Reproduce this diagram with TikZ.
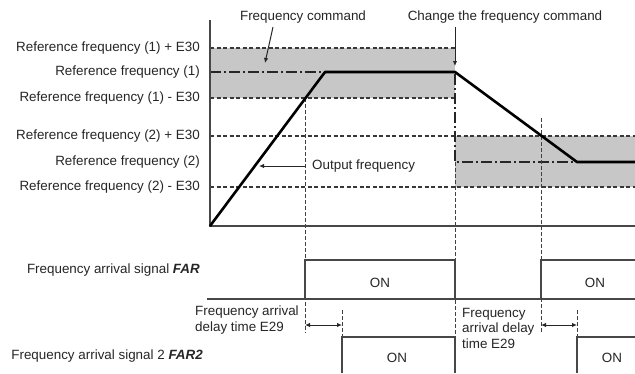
\documentclass[tikz,border=0pt]{standalone}
\usepackage{fontspec}
\setmainfont{Liberation Sans}
\usetikzlibrary{arrows.meta}
\begin{document}
\begin{tikzpicture}[x=1pt,y=-1pt,
  lbl/.style={font=\fontsize{13.4}{15.5}\selectfont, text=black!85, inner sep=0pt},
  gridline/.style={draw=black!78, line width=1.1pt, dash pattern=on 4pt off 2.5pt},
  cmdline/.style={draw=black!85, line width=1.4pt, dash pattern=on 11pt off 3pt on 2pt off 3pt},
  outline/.style={draw=black, line width=2.6pt, line join=round},
  sigline/.style={draw=black!72, line width=1.2pt},
  vdash/.style={draw=black!75, line width=1pt, dash pattern=on 4pt off 2pt},
  tip/.style={draw=black!85, line width=1pt, -{Latex[length=5pt,width=4.5pt]}},
  dtip/.style={draw=black!85, line width=1pt, {Latex[length=5pt,width=4.5pt]}-{Latex[length=5pt,width=4.5pt]}},
  band/.style={fill=black!22}]
\useasboundingbox (0,0) rectangle (635,373);
\fill[white] (0,0) rectangle (635,373);
% bands
\fill[band] (210,48) rectangle (455,98);
\fill[band] (455,136) rectangle (635,187);
% tolerance lines
\draw[gridline] (210,48) -- (455,48);
\draw[gridline] (210,98) -- (455,98);
\draw[gridline] (210,136) -- (635,136);
\draw[gridline] (210,187) -- (635,187);
% command
\draw[cmdline] (210,72) -- (455,72) -- (455,162) -- (635,162);
% vertical guides
\draw[vdash] (305,98) -- (305,333);
\draw[vdash] (455,162) -- (455,373);
\draw[vdash] (541,118) -- (541,333);
\draw[vdash] (342,310) -- (342,337);
\draw[vdash] (577,310) -- (577,337);
% axes
\draw[sigline] (210,20) -- (210,226) -- (635,226);
% output frequency
\draw[outline] (210,226) -- (325,72) -- (455,72) -- (577,162) -- (635,162);
% FAR
\draw[sigline] (207,299) -- (635,299);
\draw[sigline] (305,299) -- (305,260) -- (455,260) -- (455,299);
\draw[sigline] (541,299) -- (541,260) -- (635,260);
% FAR2
\draw[sigline] (342,373) -- (342,337) -- (455,337) -- (455,373);
\draw[sigline] (577,373) -- (577,337) -- (635,337);
% delay arrows
\coordinate (d1a) at (305,325);
\coordinate (d1b) at (342,325);
\coordinate (d2a) at (541,325);
\coordinate (d2b) at (577,325);
\draw[dtip] (d1a) -- (d1b);
\draw[dtip] (d2a) -- (d2b);
% left labels
\node[lbl, anchor=east] (r1p) at (200,48) {Reference frequency (1) + E30};
\node[lbl, anchor=east] (r1) at (200,72) {Reference frequency (1)};
\node[lbl, anchor=east] (r1m) at (200,98) {Reference frequency (1) - E30};
\node[lbl, anchor=east] (r2p) at (200,136) {Reference frequency (2) + E30};
\node[lbl, anchor=east] (r2) at (200,162) {Reference frequency (2)};
\node[lbl, anchor=east] (r2m) at (200,187) {Reference frequency (2) - E30};
% top labels
\node[lbl] (fc) at (303,17) {Frequency command};
\coordinate (fct) at (265,63);
\draw[tip] (273,27) -- (fct);
\node[lbl] (cc) at (505,17) {Change the frequency command};
\coordinate (cct) at (455,66);
\draw[tip] (cc.south -| cct) ++(0,4) -- (cct);
% output frequency label
\node[lbl, anchor=west] (of) at (312,166) {Output frequency};
\coordinate (ofs) at (305,166);
\coordinate (oft) at (259,166);
\draw[tip] (ofs) -- (oft);
% signals
\node[lbl, anchor=east] (far) at (200,270) {Frequency arrival signal \textbf{\textit{FAR}}};
\node[lbl, anchor=east] (far2) at (203,356) {Frequency arrival signal 2 \textbf{\textit{FAR2}}};
\node[lbl, anchor=west, align=left] (dl) at (195,320) {Frequency arrival\\delay time E29};
\node[lbl, anchor=west, align=left] (dr) at (462,328) {Frequency\\arrival delay\\time E29};
\node[lbl] (on1) at (380,283) {ON};
\node[lbl] (on2) at (595,283) {ON};
\node[lbl] (on3) at (397,358) {ON};
\node[lbl] (on4) at (612,358) {ON};
\end{tikzpicture}
\end{document}
